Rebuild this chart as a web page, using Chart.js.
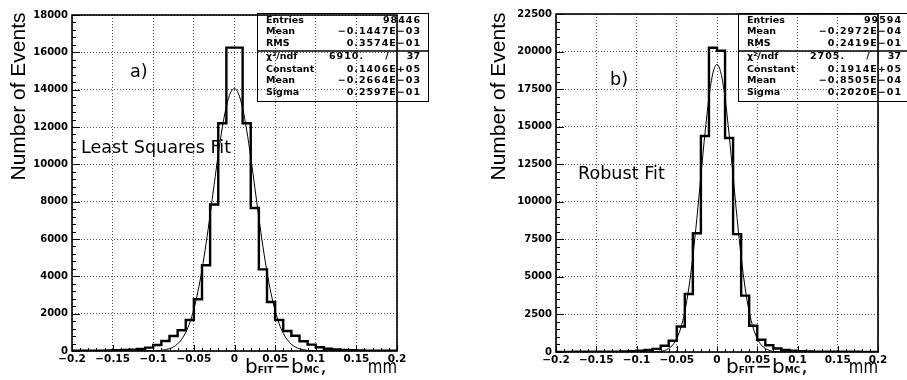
<!DOCTYPE html>
<html>
<head>
<meta charset="utf-8">
<script src="https://cdn.jsdelivr.net/npm/chart.js@4"></script>
<style>
html,body{margin:0;padding:0;background:#fff;width:907px;height:380px;overflow:hidden}
#cA{position:absolute;left:0;top:0}
#cB{position:absolute;left:453px;top:0}
</style>
</head>
<body>
<canvas id="cA" width="453" height="380"></canvas>
<canvas id="cB" width="454" height="380"></canvas>
<script>
// ---- data ----
const binEdges = [-0.20,-0.19,-0.18,-0.17,-0.16,-0.15,-0.14,-0.13,-0.12,-0.11,-0.10,-0.09,-0.08,-0.07,-0.06,-0.05,-0.04,-0.03,-0.02,-0.01,
                  0.00,0.01,0.02,0.03,0.04,0.05,0.06,0.07,0.08,0.09,0.10,0.11,0.12,0.13,0.14,0.15,0.16,0.17,0.18,0.19,0.20];
// a) Least squares fit: events per bin
const countsLS = [12,14,18,22,30,40,55,75,110,180,320,535,800,1110,1660,2770,4590,7850,12200,16250,
                  16250,12200,7660,4375,2625,1660,1070,820,520,340,200,120,80,55,40,30,22,18,14,12];
// b) Robust fit: events per bin
const countsRF = [8,10,12,14,16,18,20,25,35,50,80,130,210,420,750,1700,3860,7900,14380,20250,
                  20050,14250,7850,3750,1750,820,450,230,130,85,55,38,28,20,18,16,14,12,10,8];
// Gaussian fit curves, sampled points
const fitX  = [-0.2,-0.12,-0.1,-0.09,-0.08,-0.075,-0.07,-0.065,-0.06,-0.055,-0.05,-0.045,-0.04,-0.035,-0.03,-0.025,-0.02,-0.015,-0.01,-0.005,
               0,0.005,0.01,0.015,0.02,0.025,0.03,0.035,0.04,0.045,0.05,0.055,0.06,0.065,0.07,0.075,0.08,0.09,0.1,0.12,0.2];
const fitLS = [0,0,9,36,126,224,382,629,998,1525,2247,3189,4362,5748,7300,8933,10534,11970,13106,13828,
               14059,13774,13003,11829,10370,8759,7130,5592,4226,3078,2160,1460,952,598,362,211,118,33,8,0,0];
const fitRF = [0,0,0,1,7,20,47,108,233,470,894,1601,2694,4266,6354,8899,11724,14527,16945,18582,
               19140,18543,16920,14505,11700,8875,6335,4250,2684,1594,890,468,232,107,46,20,7,1,0,0,0];
const xTicks = [-0.2,-0.15,-0.1,-0.05,0,0.05,0.1,0.15,0.2];
const xTickLabels = ['\u22120.2','\u22120.15','\u22120.1','\u22120.05','0','0.05','0.1','0.15','0.2'];
const yTicksLS = [0,2000,4000,6000,8000,10000,12000,14000,16000,18000];
const yTicksRF = [0,2500,5000,7500,10000,12500,15000,17500,20000,22500];
const statLabels = ['Entries','Mean','RMS','\u03C7\u00B2/ndf','Constant','Mean','Sigma'];
const statsLS = ['98446','\u22120.1447E\u221203','0.3574E\u221201','6910.','0.1406E+05','\u22120.2664E\u221203','0.2597E\u221201'];
const statsRF = ['99594','\u22120.2972E\u221204','0.2419E\u221201','2705.','0.1914E+05','\u22120.8505E\u221204','0.2020E\u221201'];
const ndfLS = '37', ndfRF = '37';
const yTitle = 'Number of Events';
const panelLabels = ['a)','b)'];
const methodLabels = ['Least Squares Fit','Robust Fit'];

// ---- drawing helpers ----
const overlay = {
  id: 'overlay',
  afterDraw(chart, args, o) {
    const ctx = chart.ctx, a = chart.chartArea;
    const xs = chart.scales.x, ys = chart.scales.y;
    ctx.save();
    ctx.strokeStyle = '#000'; ctx.fillStyle = '#000';
    // minor / major ticks (inward)
    ctx.lineWidth = 1;
    ctx.beginPath();
    for (let v = ys.min; v <= ys.max + 1e-6; v += o.yMinor) {
      const p = Math.round(ys.getPixelForValue(v)) + 0.5;
      const major = Math.abs(v / o.yMajor - Math.round(v / o.yMajor)) < 1e-6;
      ctx.moveTo(a.left, p); ctx.lineTo(a.left + (major ? 8 : 4), p);
    }
    for (let k = -20; k <= 20; k++) {
      const v = k * 0.01;
      const p = Math.round(xs.getPixelForValue(v)) + 0.5;
      const major = k % 5 === 0;
      ctx.moveTo(p, a.bottom); ctx.lineTo(p, a.bottom - (major ? 6 : 3));
    }
    ctx.stroke();
    // frame
    ctx.lineWidth = 1.6;
    ctx.strokeRect(a.left, a.top, a.right - a.left, a.bottom - a.top);
    // y title (rotated)
    ctx.save();
    ctx.translate(o.yTitleX, 96.5);
    ctx.rotate(-Math.PI / 2);
    ctx.font = '21px "Liberation Sans"';
    ctx.textAlign = 'center'; ctx.textBaseline = 'alphabetic';
    ctx.fillText(yTitle, 0, 0);
    ctx.restore();
    // panel label and method
    ctx.textAlign = 'left'; ctx.textBaseline = 'middle';
    ctx.font = '17.6px "DejaVu Sans"';
    ctx.fillText(o.panel, o.panelX, o.panelY);
    ctx.fillText(o.method, o.methodX, o.methodY);
    // x title
    let x = a.right - 152; const base = 373;
    const big = '20px "DejaVu Sans"', sub = 'bold 9px "DejaVu Sans"';
    const parts = [['b', big], ['FIT', sub], ['\u2212', big], ['b', big], ['MC', sub], [',', big]];
    ctx.textBaseline = 'alphabetic';
    for (const [t, f] of parts) {
      ctx.font = f; ctx.fillText(t, x, base);
      x += ctx.measureText(t).width + (f === sub ? 1 : 0);
    }
    ctx.save();
    ctx.font = big; ctx.textAlign = 'right';
    ctx.translate(a.right, base);
    ctx.scale(0.75, 1);
    ctx.fillText('mm', 0, 0);
    ctx.restore();
    // stats box (transparent)
    const bx = a.right - 140, by = 13, bw = 171, bh = 88, div = 38;
    ctx.lineWidth = 1;
    ctx.strokeRect(bx + 0.5, by + 0.5, bw, bh);
    ctx.lineWidth = 1.6;
    ctx.beginPath(); ctx.moveTo(bx, by + div); ctx.lineTo(bx + bw, by + div); ctx.stroke();
    const rows = [7.5, 19, 30.5, 43.5, 56.5, 68, 79.5];
    ctx.textBaseline = 'middle';
    ctx.font = 'bold 9.5px "DejaVu Sans"';
    rows.forEach((ry, i) => {
      const yy = by + ry;
      ctx.letterSpacing = '0px';
      ctx.textAlign = 'left';
      ctx.fillText(statLabels[i], bx + 9, yy);
      if (i === 3) {
        ctx.letterSpacing = '1px';
        ctx.fillText(o.stats[i], bx + 72, yy);
        ctx.letterSpacing = '0px';
        ctx.textAlign = 'center';
        ctx.fillText('/', bx + 130, yy);
        ctx.textAlign = 'right';
        ctx.fillText(o.ndf, bx + bw - 8, yy);
      } else {
        ctx.letterSpacing = '1px';
        ctx.textAlign = 'right';
        ctx.fillText(o.stats[i], bx + bw - 7, yy);
      }
    });
    ctx.letterSpacing = '0px';
    ctx.restore();
  }
};

function makeChart(id, counts, fit, yTicks, yMax, cfg) {
  return new Chart(document.getElementById(id), {
    type: 'line',
    data: {
      datasets: [
        { data: binEdges.map((x, i) => ({ x, y: counts[Math.min(i, counts.length - 1)] })),
          stepped: 'before', borderColor: '#000', borderWidth: 2.4, pointRadius: 0, fill: false },
        { data: fitX.map((x, i) => ({ x, y: fit[i] })),
          borderColor: '#000', borderWidth: 1, pointRadius: 0, cubicInterpolationMode: 'monotone', fill: false }
      ]
    },
    options: {
      responsive: false, animation: false, devicePixelRatio: 1,
      layout: { padding: cfg.padding },
      plugins: { legend: { display: false }, tooltip: { enabled: false }, overlay: cfg.overlay },
      scales: {
        x: {
          type: 'linear', min: -0.2, max: 0.2,
          afterFit: s => { s.height = cfg.xh; },
          afterBuildTicks: s => { s.ticks = xTicks.map(v => ({ value: v })); },
          ticks: { autoSkip: false, maxRotation: 0, minRotation: 0, padding: 2, color: '#000',
                   font: { family: 'DejaVu Sans', size: 10.5, weight: 'bold' },
                   callback: (v, i) => xTickLabels[i] },
          grid: { color: '#555', lineWidth: 1, drawTicks: false },
          border: { display: false, dash: [1, 2] }
        },
        y: {
          type: 'linear', min: 0, max: yMax,
          afterFit: s => { s.width = 50; },
          afterBuildTicks: s => { s.ticks = yTicks.map(v => ({ value: v })); },
          ticks: { autoSkip: false, padding: 4, color: '#000',
                   font: { family: 'DejaVu Sans', size: 10, weight: 'bold' },
                   callback: v => String(v) },
          grid: { color: '#555', lineWidth: 1, drawTicks: false },
          border: { display: false, dash: [1, 2] }
        }
      }
    },
    plugins: [overlay]
  });
}

makeChart('cA', countsLS, fitLS, yTicksLS, 18000, {
  padding: { left: 22, right: 56, top: 15, bottom: 0 }, xh: 29,
  overlay: { yMinor: 400, yMajor: 2000, yTitleX: 25, panel: panelLabels[0], panelX: 130, panelY: 72,
             method: methodLabels[0], methodX: 81, methodY: 148, stats: statsLS, ndf: ndfLS }
});
makeChart('cB', countsRF, fitRF, yTicksRF, 22500, {
  padding: { left: 53, right: 29, top: 14, bottom: 0 }, xh: 28,
  overlay: { yMinor: 500, yMajor: 2500, yTitleX: 52, panel: panelLabels[1], panelX: 157, panelY: 80,
             method: methodLabels[1], methodX: 125, methodY: 174, stats: statsRF, ndf: ndfRF }
});
</script>
</body>
</html>
